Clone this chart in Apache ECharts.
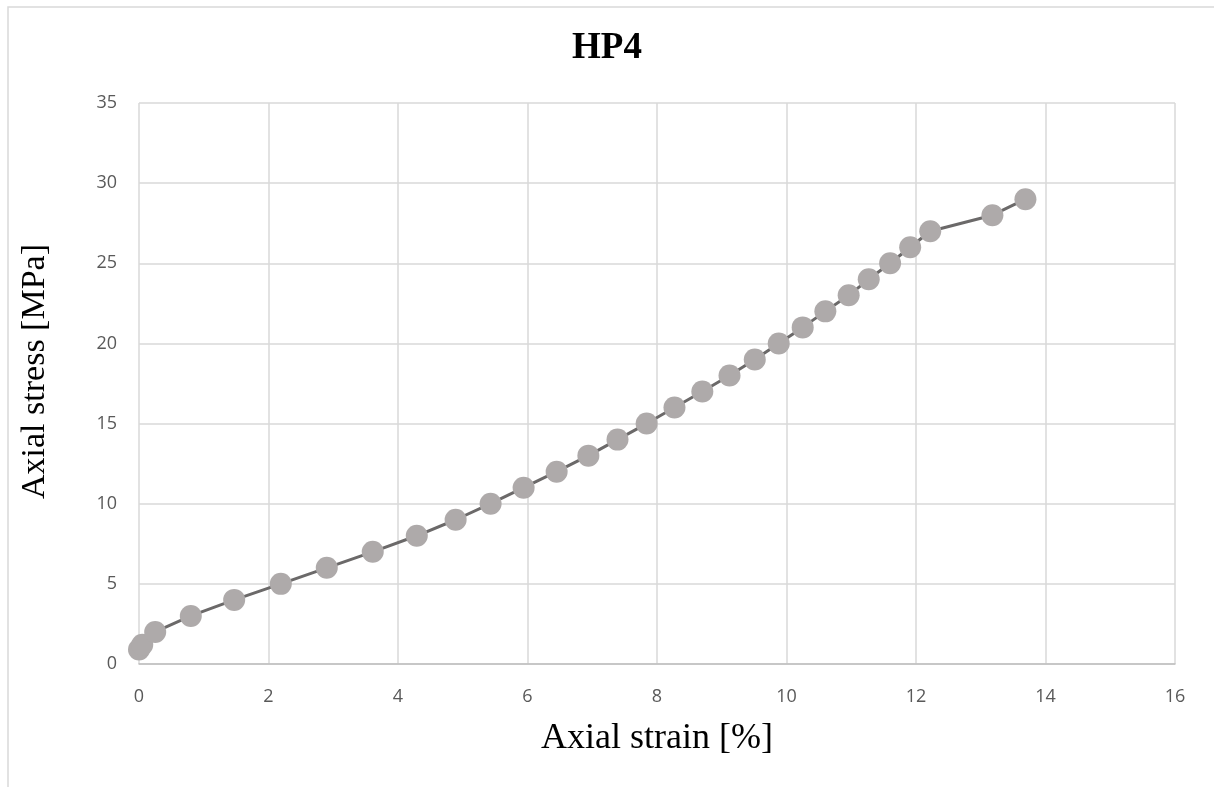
<!DOCTYPE html>
<html>
<head>
<meta charset="utf-8">
<script src="https://cdn.jsdelivr.net/npm/echarts@6/dist/echarts.min.js"></script>
<style>
  html, body { margin: 0; padding: 0; background: #fff; }
  #chart { width: 1214px; height: 787px; }
</style>
</head>
<body>
<div id="chart"></div>
<script>
// strain [%] and stress [MPa]
const strain = [0.0, 0.05, 0.25, 0.8, 1.47, 2.19, 2.9, 3.61, 4.29, 4.89, 5.43, 5.94, 6.45, 6.94, 7.39, 7.84, 8.27, 8.7, 9.12, 9.51, 9.88, 10.25, 10.6, 10.96, 11.27, 11.6, 11.91, 12.22, 13.18, 13.69]
const stress = [0.9, 1.2, 2, 3, 4, 5, 6, 7, 8, 9, 10, 11, 12, 13, 14, 15, 16, 17, 18, 19, 20, 21, 22, 23, 24, 25, 26, 27, 28, 29]

const points = strain.map((x, i) => [x, stress[i]])

const myChart = echarts.init(document.getElementById('chart'))

myChart.setOption({
  animation: false,
  title: {
    text: 'HP4',
    left: 'center',
    top: 25,
    textStyle: { fontFamily: 'Liberation Serif', fontWeight: 'bold', fontSize: 37, color: '#000' }
  },
  graphic: [{
    type: 'polyline',
    shape: { points: [[8, 787], [8, 7], [1214, 7]] },
    style: { stroke: '#d9d9d9', lineWidth: 1.5, fill: null }
  }],
  grid: { left: 139, top: 103, right: 39, bottom: 123 },
  xAxis: {
    type: 'value',
    min: 0,
    max: 16,
    interval: 2,
    name: 'Axial strain [%]',
    nameLocation: 'middle',
    nameGap: 57,
    nameTextStyle: { fontFamily: 'Liberation Serif', fontSize: 36, color: '#000' },
    axisLine: { lineStyle: { color: '#bfbfbf', width: 1.5 } },
    axisTick: { show: false },
    axisLabel: { color: '#595959', fontFamily: 'Open Sans', fontSize: 18, margin: 24 },
    splitLine: { lineStyle: { color: '#d9d9d9', width: 1.5 } }
  },
  yAxis: {
    type: 'value',
    min: 0,
    max: 35,
    interval: 5,
    name: 'Axial stress [MPa]',
    nameLocation: 'middle',
    nameGap: 87,
    nameTextStyle: { fontFamily: 'Liberation Serif', fontSize: 34, color: '#000', padding: [0, 0, 0, 24] },
    axisLine: { show: false },
    axisTick: { show: false },
    axisLabel: { color: '#595959', fontFamily: 'Open Sans', fontSize: 18, margin: 22 },
    splitLine: { lineStyle: { color: '#d9d9d9', width: 1.5 } }
  },
  series: [{
    type: 'line',
    data: points,
    symbol: 'circle',
    symbolSize: 22,
    lineStyle: { color: '#6b6969', width: 3 },
    itemStyle: { color: '#aeaaaa' }
  }]
})
</script>
</body>
</html>
